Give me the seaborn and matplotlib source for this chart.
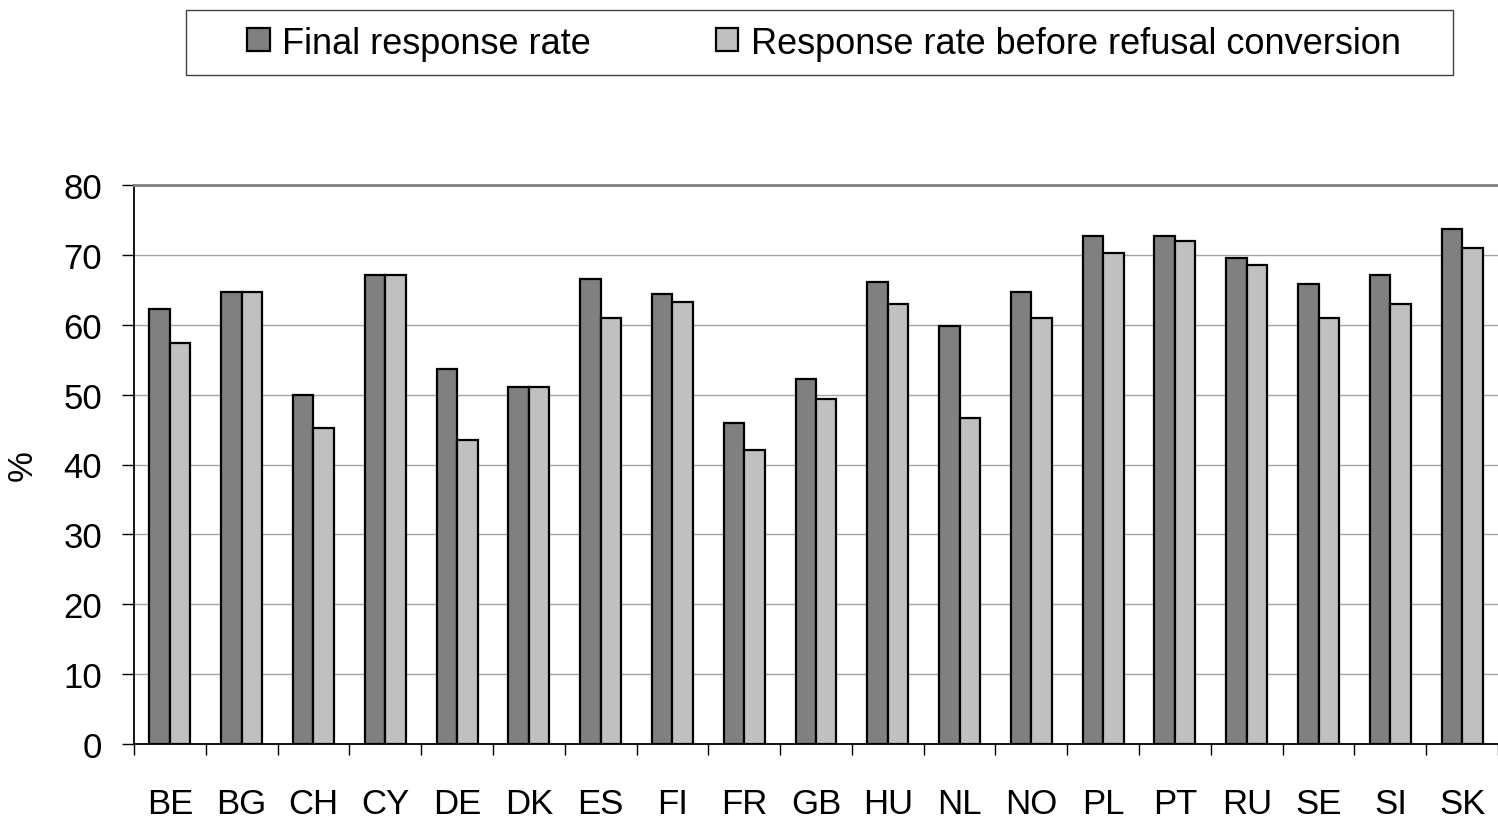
import matplotlib
matplotlib.use("Agg")
import matplotlib.pyplot as plt
from matplotlib.patches import Rectangle
import seaborn as sns
import pandas as pd
import numpy as np

countries = ["BE", "BG", "CH", "CY", "DE", "DK", "ES", "FI", "FR", "GB",
             "HU", "NL", "NO", "PL", "PT", "RU", "SE", "SI", "SK"]
final_rate = [62.3, 64.7, 50.0, 67.1, 53.6, 51.1, 66.5, 64.4, 45.9, 52.2,
              66.1, 59.8, 64.7, 72.7, 72.7, 69.6, 65.8, 67.1, 73.7]
before_rate = [57.4, 64.7, 45.2, 67.1, 43.5, 51.1, 60.9, 63.3, 42.1, 49.4,
               63.0, 46.7, 60.9, 70.3, 72.0, 68.5, 60.9, 63.0, 71.0]
series_names = ["Final response rate", "Response rate before refusal conversion"]
y_ticks = [0, 10, 20, 30, 40, 50, 60, 70, 80]

df = pd.DataFrame({
    "country": countries * 2,
    "value": final_rate + before_rate,
    "series": [series_names[0]] * len(countries) + [series_names[1]] * len(countries),
})

sns.set_theme(style="white")
plt.rcParams["font.family"] = ["Liberation Sans", "DejaVu Sans"]

W, H = 1498, 820
fig = plt.figure(figsize=(W / 100, H / 100), dpi=100)
ax = fig.add_axes([134 / W, 1 - 745 / H, (W - 134) / W, (745 - 186) / H])

sns.barplot(data=df, x="country", y="value", hue="series", order=countries,
            hue_order=series_names, palette=["#808080", "#C0C0C0"],
            saturation=1, width=0.57, edgecolor="black", linewidth=1.6,
            dodge=True, ax=ax, legend=True)

ax.set_ylim(0, 80)
ax.set_xlim(-0.5, 18.5 - 8 / 72.2)
ax.set_yticks(y_ticks)
ax.set_yticklabels([str(t) for t in y_ticks], fontsize=25)
ax.yaxis.grid(True, color="#A6A6A6", linewidth=1.0)
ax.set_axisbelow(True)
ax.tick_params(axis="y", direction="out", length=9, width=1.0, color="black",
               pad=14, left=True)
ax.tick_params(axis="x", which="major", length=0, pad=31, labelsize=25)
ax.set_xticks(np.arange(-0.5, len(countries) + 0.5, 1.0), minor=True)
ax.tick_params(axis="x", which="minor", direction="out", length=8, width=1.0,
               color="black", bottom=True)
ax.set_xlabel("")
ax.set_ylabel("%", fontsize=25, labelpad=18)

ax.spines["right"].set_visible(False)
ax.spines["top"].set_color("#808080")
ax.spines["top"].set_linewidth(2.0)
ax.spines["left"].set_color("black")
ax.spines["left"].set_linewidth(1.3)
ax.spines["bottom"].set_color("black")
ax.spines["bottom"].set_linewidth(1.3)
for t in ax.yaxis.get_ticklabels() + ax.xaxis.get_ticklabels():
    t.set_color("black")
ax.yaxis.label.set_color("black")

handles, labels = ax.get_legend_handles_labels()
if ax.legend_:
    ax.legend_.remove()
leg = fig.legend(handles, labels, loc="center", bbox_to_anchor=(824 / W, 1 - 44 / H),
                 ncol=2, frameon=False, fontsize=26, handlelength=0.62,
                 handleheight=0.62, handletextpad=0.35, columnspacing=3.45)
for t in leg.get_texts():
    t.set_color("black")
fig.patches.append(Rectangle((186 / W, 1 - 76 / H), (1453 - 186) / W, (76 - 11) / H,
                             transform=fig.transFigure, fill=False,
                             edgecolor="#404040", linewidth=1.0))

fig.savefig("out.png", dpi=100)
